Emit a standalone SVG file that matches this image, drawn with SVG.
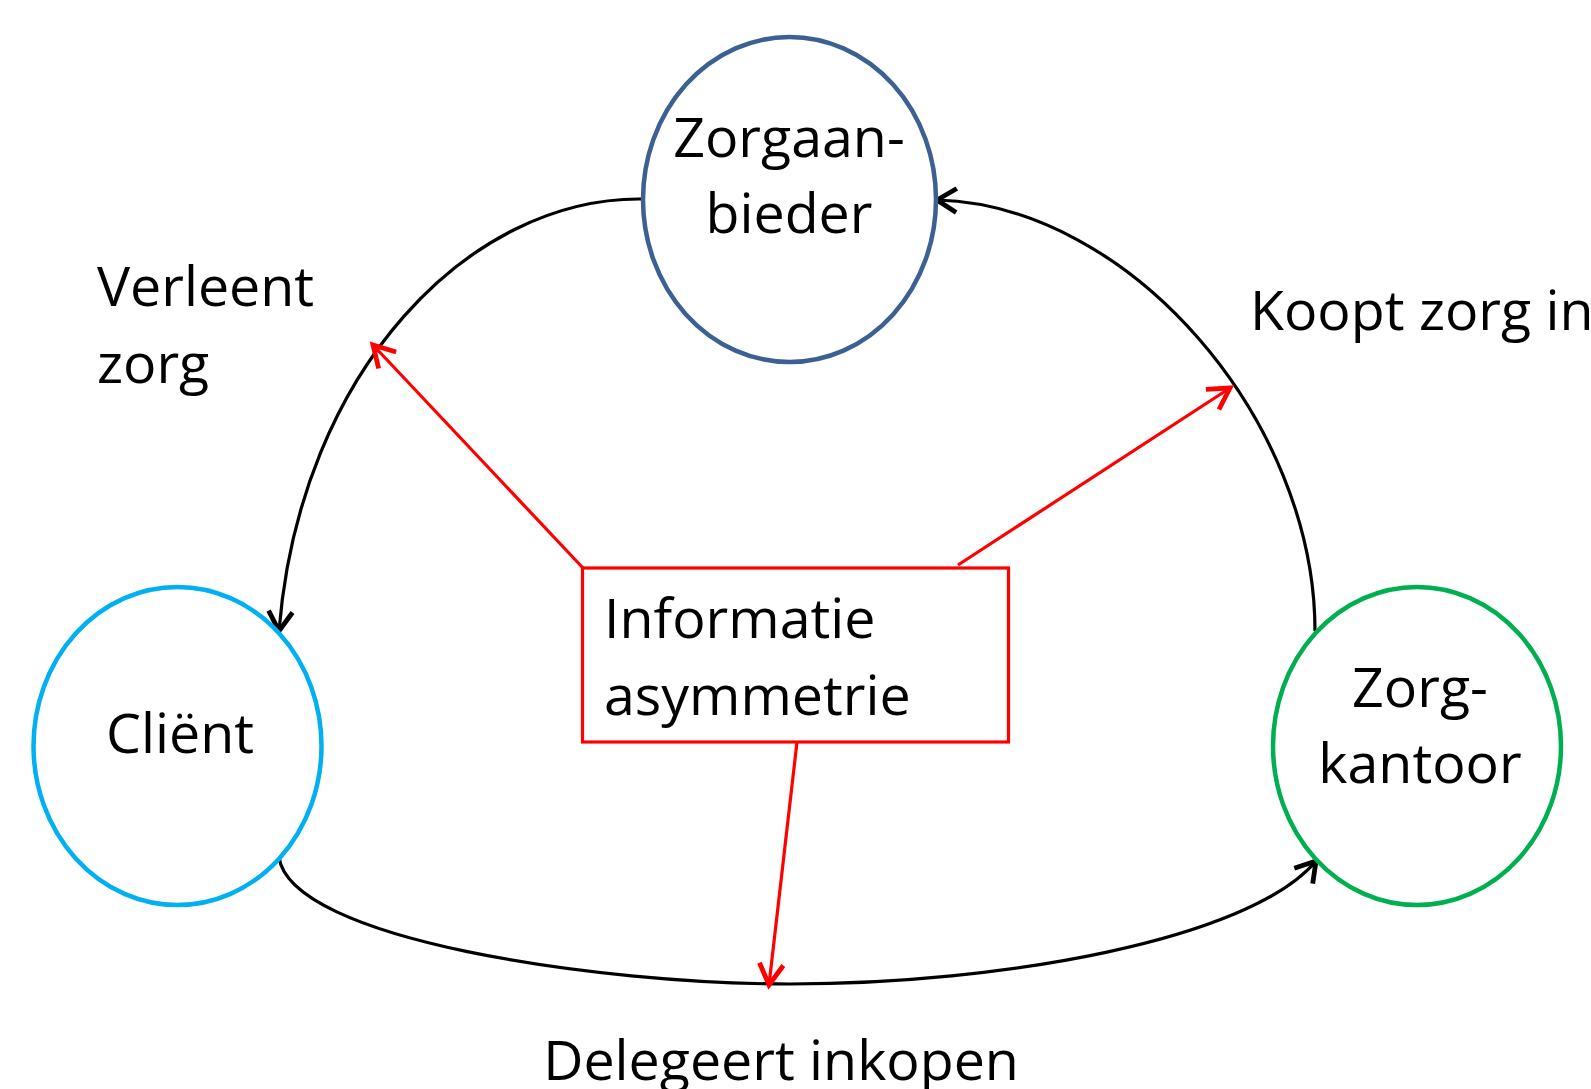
<svg xmlns="http://www.w3.org/2000/svg" width="1591" height="1089" viewBox="0 0 1591 1089">
<style>
  .lbl { font-family: "Open Sans", "Liberation Sans", sans-serif; font-size: 55.5px; fill: #000; }
  .node { fill: #fff; stroke-width: 4.5; }
  .conn { fill: none; stroke: #000; stroke-width: 3.2; }
  .red { fill: none; stroke: #ff0000; stroke-width: 3.2; }
</style>
<defs>
  <marker id="arrBlack" markerUnits="userSpaceOnUse" markerWidth="30" markerHeight="30" viewBox="-16 -10 20 20" refX="0" refY="0" orient="auto">
    <path d="M-13,-8 L0,0 L-13,8" fill="none" stroke="#000" stroke-width="3.2"/>
  </marker>
  <marker id="arrRed" markerUnits="userSpaceOnUse" markerWidth="30" markerHeight="30" viewBox="-16 -10 20 20" refX="0" refY="0" orient="auto">
    <path d="M-14,-8 L0,0 L-14,8" fill="none" stroke="#ff0000" stroke-width="3.2"/>
  </marker>
</defs>
<rect width="1591" height="1089" fill="#fff"/>

<g id="connectors">
  <path class="conn" d="M642,199 C470,197 300,370 279,631" marker-end="url(#arrBlack)"/>
  <path class="conn" d="M1315,631 C1315,420 1130,205 937,200" marker-end="url(#arrBlack)"/>
  <path class="conn" d="M279,857 C290,940 600,984 790,984 C1000,984 1250,940 1316,861" marker-end="url(#arrBlack)"/>
  <line class="red" x1="583" y1="568" x2="373" y2="345" marker-end="url(#arrRed)"/>
  <line class="red" x1="958" y1="565" x2="1230" y2="388" marker-end="url(#arrRed)"/>
  <line class="red" x1="797" y1="742" x2="769" y2="985" marker-end="url(#arrRed)"/>
</g>

<g id="zorgaanbieder">
  <ellipse class="node" cx="789.5" cy="199.5" rx="146.5" ry="162.5" stroke="#3B6091"/>
  <text class="lbl" x="789" y="157" text-anchor="middle">Zorgaan-</text>
  <text class="lbl" x="789" y="233" text-anchor="middle">bieder</text>
</g>

<g id="client">
  <ellipse class="node" cx="177.5" cy="746" rx="144" ry="159" stroke="#00B0F0"/>
  <text class="lbl" x="180" y="753" text-anchor="middle">Cliënt</text>
</g>

<g id="zorgkantoor">
  <ellipse class="node" cx="1417" cy="746" rx="144" ry="159" stroke="#00B050"/>
  <text class="lbl" x="1420" y="707" text-anchor="middle">Zorg-</text>
  <text class="lbl" x="1420" y="783" text-anchor="middle">kantoor</text>
</g>

<g id="informatie">
  <rect x="582.5" y="568" width="426" height="174" fill="#fff" stroke="#ff0000" stroke-width="3.2"/>
  <text class="lbl" x="604" y="638">Informatie</text>
  <text class="lbl" x="604" y="715">asymmetrie</text>
</g>

<g id="labels">
  <text class="lbl" x="97" y="306">Verleent</text>
  <text class="lbl" x="97" y="383">zorg</text>
  <text class="lbl" x="1250" y="330">Koopt zorg in</text>
  <text class="lbl" x="781" y="1080" text-anchor="middle">Delegeert inkopen</text>
</g>
</svg>
